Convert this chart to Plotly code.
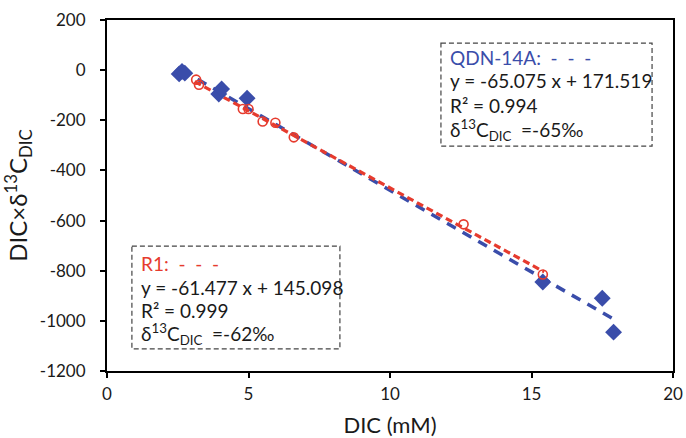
import plotly.graph_objects as go

# QDN-14A samples (blue diamonds)
qdn_dic = [2.55, 2.65, 2.75, 3.95, 4.05, 4.95, 15.4, 17.5, 17.9]
qdn_val = [-15, -5, -12, -95, -75, -112, -845, -910, -1045]
# R1 samples (red open circles)
r1_dic = [3.15, 3.25, 4.8, 5.0, 5.5, 5.95, 6.6, 12.6, 15.4]
r1_val = [-38, -58, -155, -155, -205, -210, -268, -615, -815]

# linear fits
qdn_slope, qdn_icpt = -65.075, 171.519
r1_slope, r1_icpt = -61.477, 145.098
qdn_fit_x = [3.2, 17.85]
r1_fit_x = [3.1, 15.45]

x_ticks = [0, 5, 10, 15, 20]
x_tick_labels = ["0", "5", "10", "15", "20"]
y_ticks = [200, 0, -200, -400, -600, -800, -1000, -1200]
y_tick_labels = ["200", "0", "-200", "-400", "-600", "-800", "-1000", "-1200"]

BLUE = "#3A4DAA"
RED = "#E63B2E"
FONT = "Lato"
TXT = "#1a1a1a"

fig = go.Figure()
fig.add_trace(go.Scatter(x=qdn_fit_x, y=[qdn_slope * v + qdn_icpt for v in qdn_fit_x],
                         mode="lines", line=dict(color=BLUE, width=3.5, dash="10px,8px"),
                         showlegend=False))
fig.add_trace(go.Scatter(x=r1_fit_x, y=[r1_slope * v + r1_icpt for v in r1_fit_x],
                         mode="lines", line=dict(color=RED, width=3.2, dash="7px,4px"),
                         showlegend=False))
fig.add_trace(go.Scatter(x=qdn_dic, y=qdn_val, mode="markers",
                         marker=dict(symbol="diamond", size=13, color=BLUE),
                         showlegend=False))
fig.add_trace(go.Scatter(x=r1_dic, y=r1_val, mode="markers",
                         marker=dict(symbol="circle-open", size=9, color=RED,
                                     line=dict(width=1.6, color=RED)),
                         showlegend=False))

# annotation boxes (dashed)
boxes = [(11.8, 19.26, 108, -303), (0.88, 8.23, -702, -1112)]
for x0, x1, y0, y1 in boxes:
    fig.add_shape(type="rect", xref="x", yref="y", x0=x0, x1=x1, y0=y0, y1=y1,
                  line=dict(color="#444", width=1.2, dash="5px,3px"), fillcolor="rgba(0,0,0,0)")

def box_text(x, ys, name, color, slope, icpt, r2, d13):
    lines = [
        (f"{name}:  -  -  -", color),
        (f"y = {slope:.3f} x + {icpt:.3f}", TXT),
        (f"R² = {r2:.3f}", TXT),
        (f"δ<sup>13</sup>C<sub>DIC</sub>  =-{d13}‰", TXT),
    ]
    for (t, c), y in zip(lines, ys):
        fig.add_annotation(x=x, y=y, xref="x", yref="y", text=t, showarrow=False,
                           xanchor="left", yanchor="middle",
                           font=dict(family=FONT, size=19, color=c))

box_text(12.05, [50, -42, -142, -238], "QDN-14A", BLUE, qdn_slope, qdn_icpt, 0.994, 65)
box_text(1.12, [-772, -865, -958, -1052], "R1", RED, r1_slope, r1_icpt, 0.999, 62)

fig.update_layout(
    width=686, height=438,
    margin=dict(l=107, r=13, t=20, b=67),
    plot_bgcolor="white", paper_bgcolor="white",
    font=dict(family=FONT, color=TXT),
    xaxis=dict(range=[0, 20], tickvals=x_ticks, ticktext=x_tick_labels,
               showgrid=False, zeroline=False, automargin=False,
               showline=True, linecolor="black", linewidth=2, mirror=True,
               ticks="outside", ticklen=5, tickwidth=2, tickcolor="black",
               ticklabelstandoff=2,
               tickfont=dict(size=17, family=FONT, color=TXT),
               title=dict(text="DIC (mM)", font=dict(size=22, family=FONT, color=TXT))),
    yaxis=dict(range=[-1200, 200], tickvals=y_ticks, ticktext=y_tick_labels,
               showgrid=False, zeroline=False, automargin=False,
               showline=True, linecolor="black", linewidth=2, mirror=True,
               ticks="outside", ticklen=5, tickwidth=2, tickcolor="black",
               ticklabelstandoff=11,
               tickfont=dict(size=17, family=FONT, color=TXT),
               title=dict(text="DIC×δ<sup>13</sup>C<sub>DIC</sub>",
                          font=dict(size=24, family=FONT, color=TXT))),
)

fig.write_html("out.html")
